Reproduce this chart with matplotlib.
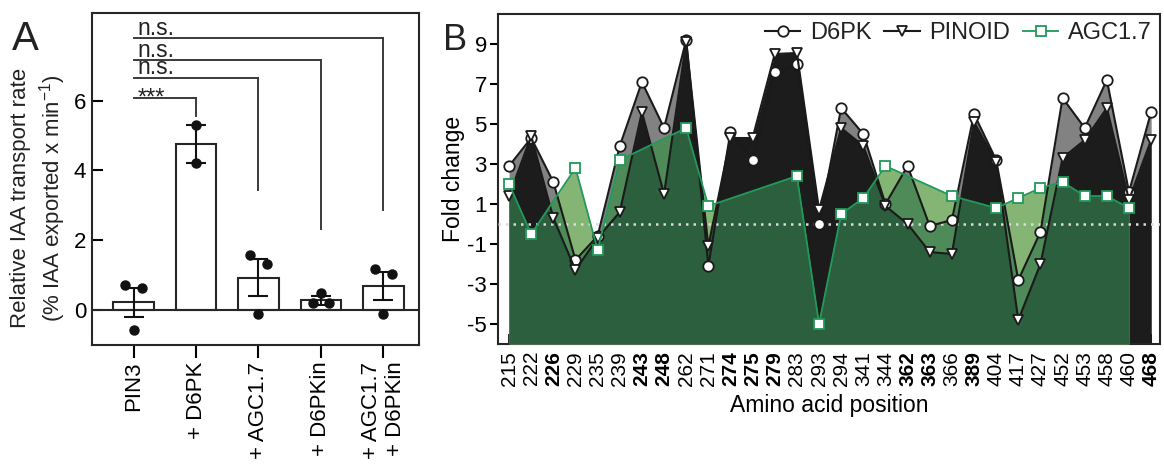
import numpy as np
import matplotlib
matplotlib.use("Agg")
import matplotlib.pyplot as plt

plt.rcParams['font.family'] = ['Liberation Sans', 'DejaVu Sans']
plt.rcParams['mathtext.fontset'] = 'custom'
plt.rcParams['mathtext.rm'] = 'Liberation Sans'
plt.rcParams['mathtext.it'] = 'Liberation Sans:italic'
plt.rcParams['text.color'] = '#222222'

# ---------------- Panel A data ----------------
groups = ['PIN3', '+ D6PK', '+ AGC1.7', '+ D6PKin', '+ AGC1.7\n+ D6PKin']
bar_means = [0.22, 4.75, 0.92, 0.28, 0.69]
bar_errs = [0.42, 0.54, 0.53, 0.13, 0.40]
replicates = [[0.71, 0.64, -0.57], [5.30, 4.21], [1.57, 1.33, -0.12],
              [0.50, 0.19, 0.19], [1.19, 1.03, -0.11]]
sig_labels = ['***', 'n.s.', 'n.s.', 'n.s.']
sig_targets = [1, 2, 3, 4]

# ---------------- Panel B data ----------------
positions = ['215', '222', '226', '229', '235', '239', '243', '248', '262', '271',
             '274', '275', '279', '283', '293', '294', '341', '344', '362', '363',
             '366', '389', '404', '417', '427', '452', '453', '458', '460', '468']
bold_positions = ['226', '243', '248', '274', '275', '279', '362', '363', '389', '468']
d6pk = [2.9, 4.3, 2.1, -1.8, -0.6, 3.9, 7.1, 4.8, 9.2, -2.1,
        4.6, 3.2, 7.6, 8.0, 0.0, 5.8, 4.5, 1.0, 2.9, -0.1,
        0.2, 5.5, 3.2, -2.8, -0.4, 6.3, 4.8, 7.2, 1.6, 5.6]
pinoid = [1.4, 4.4, 0.3, -2.3, -0.7, 0.6, 5.6, 1.5, 9.1, -1.1,
          4.3, 4.3, 8.5, 8.55, 0.7, 4.8, 3.9, 0.9, 0.0, -1.4,
          -1.5, 5.1, 3.1, -4.8, -2.0, 3.3, 4.2, 5.8, 1.2, 4.2]
nan = np.nan
agc17 = [2.0, -0.5, nan, 2.8, -1.3, 3.2, nan, nan, 4.8, 0.9,
         nan, nan, nan, 2.4, -5.0, 0.5, 1.3, 2.9, nan, nan,
         1.4, nan, 0.8, 1.3, 1.8, 2.1, 1.4, 1.4, 0.8, nan]

W, H = 1164, 467
fig = plt.figure(figsize=(W / 100, H / 100), dpi=100)

edge = '#262626'

# ================= Panel A =================
axA = fig.add_axes([91.7 / W, 1 - 345 / H, (419 - 91.7) / W, (345 - 13.3) / H])
xA = np.arange(len(groups))
axA.bar(xA, bar_means, width=0.65, color='white', edgecolor=edge, linewidth=1.5, zorder=2)
axA.errorbar(xA, bar_means, yerr=bar_errs, fmt='none', ecolor='#111111',
             elinewidth=1.5, capsize=7.5, capthick=1.5, zorder=4)
offsets = [[-0.13, 0.13, 0.0], [0.0, 0.0], [-0.13, 0.13, 0.0],
           [0.0, -0.13, 0.13], [-0.13, 0.13, 0.0]]
for i, (vals, offs) in enumerate(zip(replicates, offsets)):
    axA.plot(i + np.array(offs), vals, 'o', color='#111111', ms=6.5, zorder=5,
             clip_on=False)
axA.axhline(0, color=edge, lw=1.5, zorder=3)

bracket_y = [6.08, 6.65, 7.16, 7.78]
bracket_drop = [5.57, 3.45, 2.33, 2.86]
for lab, tgt, yb, yd in zip(sig_labels, sig_targets, bracket_y, bracket_drop):
    axA.plot([0, tgt], [yb, yb], color='#3a3a3a', lw=1.4, zorder=3)
    axA.plot([tgt, tgt], [yb, yd], color='#3a3a3a', lw=1.4, zorder=3)
    if lab == '***':
        axA.text(0.07, yb - 0.19, lab, fontsize=17, ha='left', va='baseline')
    else:
        axA.text(0.07, yb + 0.1, lab, fontsize=16.5, ha='left', va='baseline')

axA.set_xlim(-0.67, 4.57)
axA.set_ylim(-1, 8.5)
axA.set_yticks([0, 2, 4, 6])
axA.set_xticks(xA)
axA.set_xticklabels(groups, rotation=90, fontsize=16, multialignment='right')
axA.tick_params(axis='y', direction='in', length=8, width=1.5, labelsize=16, pad=4)
axA.tick_params(axis='x', direction='out', length=9, width=1.5, pad=3)
for s in axA.spines.values():
    s.set_linewidth(1.5)
    s.set_color(edge)
fig.text(39 / W, 1 - 198 / H,
         "Relative IAA transport rate\n(% IAA exported x min$^{-1}$)",
         rotation=90, ha='center', va='center', multialignment='center',
         fontsize=16, linespacing=1.25)
fig.text(12 / W, 1 - 49.5 / H, 'A', fontsize=29, ha='left', va='baseline')

# ================= Panel B =================
axB = fig.add_axes([498 / W, 1 - 344 / H, (1160 - 498) / W, (344 - 14) / H])
xB = np.arange(len(positions))
d6 = np.array(d6pk)
pi = np.array(pinoid)
ag = np.array(agc17)
mask = ~np.isnan(ag)
xa, ya = xB[mask], ag[mask]

gray = '#828282'
black = '#1c1c1c'
light_g = '#84b574'
med_g = '#4f8b58'
dark_g = '#2b5f3d'
line_g = '#21995a'
ybot = -6

fd = axB.fill_between(xB, d6, ybot, color=gray, lw=0, zorder=1)
fp = axB.fill_between(xB, pi, ybot, color=black, lw=0, zorder=2)
axB.fill_between(xa, ya, ybot, color=light_g, lw=0, zorder=3)
fm = axB.fill_between(xa, ya, ybot, color=med_g, lw=0, zorder=4)
fm.set_clip_path(fd.get_paths()[0], axB.transData)
fk = axB.fill_between(xa, ya, ybot, color=dark_g, lw=0, zorder=5)
fk.set_clip_path(fp.get_paths()[0], axB.transData)

axB.axhline(0, color='#dcdcdc', lw=1.8, ls=(0, (1, 2)), zorder=6)

axB.plot(xB, d6, '-o', color='#1a1a1a', mfc='white', mec='#1a1a1a', ms=7.5,
         mew=1.3, lw=1.5, zorder=7, label='D6PK')
axB.plot(xB, pi, '-v', color='#1a1a1a', mfc='white', mec='#1a1a1a', ms=7.5,
         mew=1.3, lw=1.5, zorder=8, label='PINOID')
axB.plot(xa, ya, '-s', color=line_g, mfc='white', mec=line_g, ms=7,
         mew=1.3, lw=1.3, zorder=9, label='AGC1.7')

axB.set_xlim(-0.5, 29.4)
axB.set_ylim(ybot, 10.5)
axB.set_yticks([9, 7, 5, 3, 1, -1, -3, -5])
axB.set_yticklabels(['9', '7', '5', '3', '1', '-1', '-3', '-5'])
axB.set_xticks(xB)
axB.set_xticklabels(positions, rotation=90, fontsize=15)
for lbl in axB.get_xticklabels():
    if lbl.get_text() in bold_positions:
        lbl.set_fontweight('bold')
axB.tick_params(axis='y', direction='out', length=6, width=1.5, labelsize=16, pad=2)
axB.tick_params(axis='x', direction='in', length=7, width=1.2, pad=5)
for s in axB.spines.values():
    s.set_linewidth(1.5)
    s.set_color(edge)
axB.set_ylabel('Fold change', fontsize=16.5)
axB.yaxis.set_label_coords(-0.05, 0.5)
axB.set_xlabel('Amino acid position', fontsize=16.5, labelpad=6)

leg = axB.legend(loc='upper right', bbox_to_anchor=(1.0, 1.0), ncol=3, frameon=False,
                 fontsize=17, handlelength=1.5, handletextpad=0.4, columnspacing=0.55,
                 borderaxespad=0.15, borderpad=0.2)
fig.text(443 / W, 1 - 50 / H, 'B', fontsize=26, ha='left', va='baseline')

fig.savefig('out.png', dpi=100)
